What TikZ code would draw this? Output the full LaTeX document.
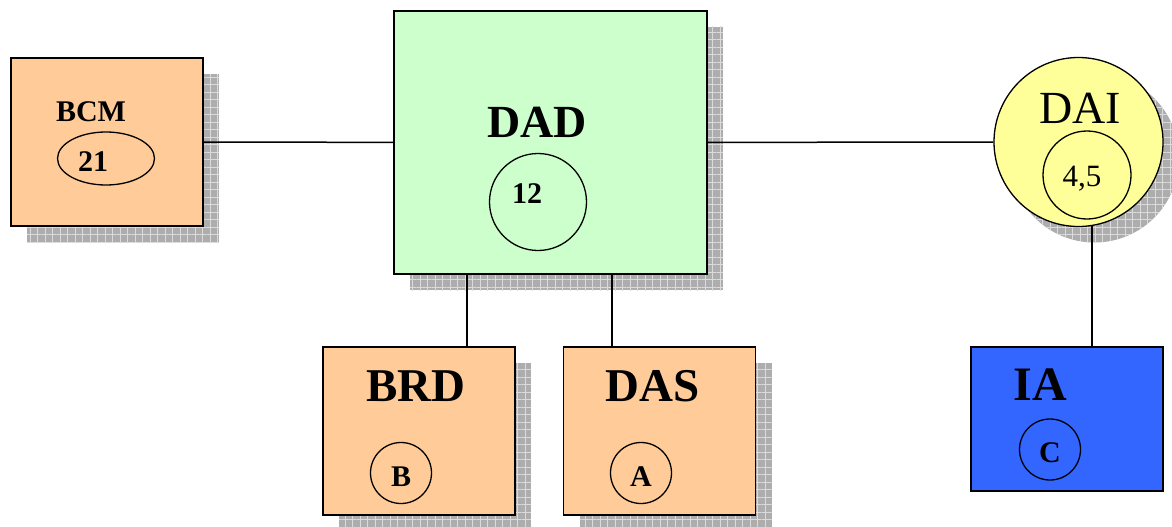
\documentclass[tikz,border=0pt]{standalone}
\usepackage{fontspec}
\setmainfont{Liberation Serif}
\usetikzlibrary{shapes.geometric,shadows,patterns.meta}
\definecolor{peach}{HTML}{FFCC99}
\definecolor{mint}{HTML}{CCFFCC}
\definecolor{lemon}{HTML}{FFFF99}
\definecolor{royal}{HTML}{3366FF}
\tikzset{
  gridshadow/.style={
    general shadow={fill=black!32, shadow xshift=16pt, shadow yshift=-16pt},
    general shadow={pattern={Lines[distance=7.5pt,line width=0.6pt]}, pattern color=black!14, shadow xshift=16pt, shadow yshift=-16pt},
    general shadow={pattern={Lines[distance=7.5pt,angle=90,line width=0.6pt]}, pattern color=black!14, shadow xshift=16pt, shadow yshift=-16pt}},
  box/.style={draw, line width=1.8pt, inner sep=0pt},
  ring/.style={draw, circle, line width=1.3pt, inner sep=0pt},
  big/.style={font=\fontsize{46}{50}\selectfont\bfseries},
  small/.style={font=\fontsize{30}{34}\selectfont\bfseries},
  link/.style={line width=1.5pt}
}
\begin{document}
\begin{tikzpicture}[x=1pt,y=-1pt]
\useasboundingbox (0,0) rectangle (1172,527);
\node[box, gridshadow, fill=peach, minimum width=192pt, minimum height=168pt] (bcm) at (107,142) {};
\node[box, gridshadow, fill=mint, minimum width=313pt, minimum height=263pt] (dad) at (550.5,142.5) {};
\node[box, gridshadow, fill=peach, minimum width=192pt, minimum height=168pt] (brd) at (419,431) {};
\node[box, gridshadow, fill=peach, minimum width=192pt, minimum height=168pt] (das) at (659.5,431) {};
\node[ring, gridshadow, fill=lemon, minimum size=169pt] (dai) at (1078.5,142) {};
\node[box, fill=royal, minimum width=192pt, minimum height=144pt] (ia) at (1067,419) {};
\node[big] (bcmt) at (91,112) {\fontsize{30}{34}\selectfont BCM};
\node[big] (dadt) at (537,122) {DAD};
\node[big] (brdt) at (416,386) {\fontsize{47}{50}\selectfont BRD};
\node[big] (dast) at (653,386) {\fontsize{47}{50}\selectfont DAS};
\node[font=\fontsize{46}{50}\selectfont] (dait) at (1080,108) {DAI};
\node[big] (iat) at (1040,385) {\fontsize{48}{50}\selectfont IA};
\node[draw, ellipse, line width=1.3pt, minimum width=97pt, minimum height=53pt, label={[small, xshift=-13pt, yshift=-3pt]center:21}] (bcmn) at (106,158.5) {};
\node[ring, minimum size=97pt, label={[small, xshift=-11pt, yshift=8pt]center:12}] (dadn) at (538,202) {};
\node[ring, minimum size=61pt, label={[small, yshift=-4pt]center:B}] (brdn) at (401,473) {};
\node[ring, minimum size=61pt, label={[small, yshift=-4pt]center:A}] (dasn) at (641,473) {};
\node[ring, minimum size=88pt, label={[font=\fontsize{31}{34}\selectfont, xshift=-5pt, yshift=-4pt]center:4,5}] (dain) at (1087,175) {};
\node[ring, minimum size=61pt, label={[small, yshift=-3pt]center:C}] (ian) at (1050,449.5) {};
\draw[link] (bcm) -- (dad);
\draw[link] (dad) -- (dai);
\draw[link] (dad.south -| 467,0) -- (brd.north -| 467,0);
\draw[link] (dad.south -| 612,0) -- (das.north -| 612,0);
\draw[link] (dai.-81) -- (dai.-81 |- ia.north);
\end{tikzpicture}
\end{document}
